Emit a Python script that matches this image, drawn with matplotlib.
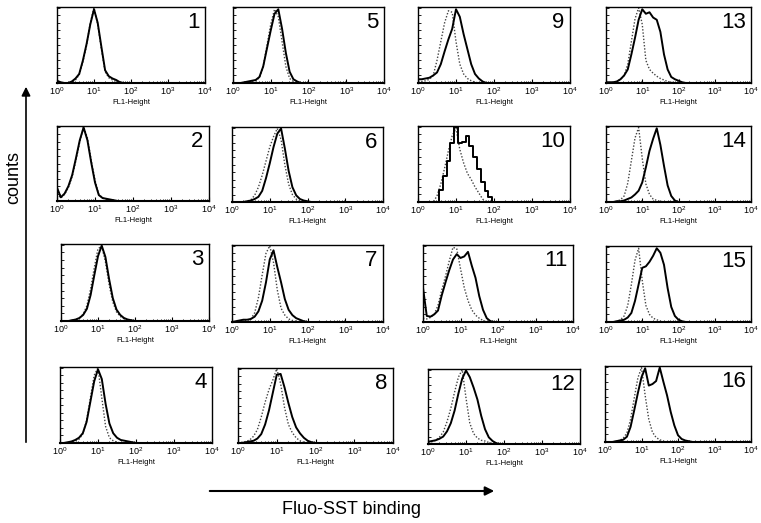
import matplotlib
matplotlib.use("Agg")
import matplotlib.pyplot as plt
from matplotlib.patches import FancyArrowPatch
from matplotlib.ticker import LogLocator, NullFormatter, MultipleLocator

plt.rcParams['font.family'] = ['Liberation Sans', 'DejaVu Sans']
plt.rcParams['mathtext.fontset'] = 'custom'
plt.rcParams['mathtext.rm'] = 'Liberation Sans'

# ---------------- data ----------------
# log10(FL1-Height) grid shared by all histograms
log_fl1 = [0.0, 0.1, 0.2, 0.3, 0.4, 0.5, 0.6, 0.7, 0.8, 0.9, 1.0, 1.1, 1.2,
           1.3, 1.4, 1.5, 1.6, 1.7, 1.8, 1.9, 2.0, 2.1, 2.2, 2.3, 2.4, 2.5]

panel_ids = ['1', '2', '3', '4', '5', '6', '7', '8',
             '9', '10', '11', '12', '13', '14', '15', '16']

# sample (solid) histograms, relative counts
solid_1 = [3, 1, 0, 0, 2, 6, 12, 30, 52, 78, 98, 80, 48, 17, 9, 6, 4, 1, 0]
solid_2 = [18, 5, 10, 20, 35, 58, 82, 99, 82, 52, 25, 8, 4, 3, 2, 1, 0]
solid_3 = [0, 0, 0, 1, 2, 4, 8, 16, 34, 60, 85, 99, 84, 55, 30, 15, 8, 4, 2, 1, 0]
solid_4 = [0, 0, 1, 2, 4, 7, 13, 28, 55, 82, 98, 85, 52, 26, 13, 7, 4, 3, 2, 1, 0]
solid_5 = [0, 0, 0, 1, 2, 3, 4, 8, 22, 46, 70, 92, 98, 72, 40, 15, 5, 2, 0]
solid_6 = [0, 0, 0, 0, 1, 2, 4, 7, 15, 32, 52, 74, 92, 99, 72, 42, 20, 9, 4, 2, 1, 0]
solid_7 = [0, 1, 2, 3, 3, 4, 7, 14, 28, 52, 82, 94, 72, 52, 30, 16, 9, 5, 3, 1, 0]
solid_8 = [0, 0, 1, 2, 3, 6, 12, 25, 44, 68, 92, 93, 75, 54, 35, 21, 13, 7, 3, 1, 0]
solid_9 = [5, 5, 6, 7, 10, 14, 25, 42, 58, 72, 98, 88, 65, 45, 25, 12, 6, 2, 0]
solid_10 = [0, 0, 0, 0, 0, 0, 16, 34, 55, 78, 100, 78, 80, 88, 74, 60, 44, 27, 14, 6, 0]
solid_11 = [45, 8, 7, 10, 15, 35, 52, 68, 82, 89, 84, 86, 92, 74, 58, 34, 16, 5, 1, 0]
solid_12 = [3, 4, 5, 7, 10, 17, 28, 45, 68, 88, 99, 90, 76, 60, 38, 20, 9, 4, 1, 0]
solid_13 = [1, 1, 1, 2, 5, 10, 18, 38, 60, 84, 98, 92, 94, 87, 84, 68, 38, 18, 8, 5, 3, 1, 0]
solid_14 = [0, 0, 0, 1, 1, 2, 4, 6, 10, 15, 26, 46, 68, 84, 98, 76, 48, 22, 8, 2, 0]
solid_15 = [0, 0, 0, 1, 2, 3, 6, 12, 28, 50, 72, 74, 80, 88, 98, 92, 76, 45, 20, 8, 3, 1, 0]
solid_16 = [0, 0, 0, 1, 2, 3, 7, 20, 42, 65, 86, 98, 75, 77, 81, 99, 80, 62, 40, 22, 9, 4, 2, 1, 0]

# control (dotted) histograms, relative counts
dotted_1 = [0, 0, 0, 0, 1, 4, 11, 28, 50, 80, 100, 78, 45, 15, 7, 4, 2, 1, 0]
dotted_2 = [10, 4, 9, 18, 33, 55, 80, 100, 85, 55, 28, 9, 4, 2, 1, 0]
dotted_3 = [0, 0, 0, 1, 2, 4, 9, 20, 42, 70, 95, 98, 78, 48, 25, 12, 6, 3, 1, 0]
dotted_4 = [0, 0, 0, 1, 2, 5, 12, 30, 60, 90, 100, 60, 22, 7, 3, 1, 0]
dotted_5 = [0, 0, 0, 0, 1, 2, 3, 7, 22, 50, 78, 98, 88, 55, 22, 6, 2, 0]
dotted_6 = [0, 0, 0, 0, 1, 3, 9, 20, 36, 55, 74, 88, 99, 84, 50, 24, 10, 4, 1, 0]
dotted_7 = [0, 0, 1, 1, 2, 4, 12, 32, 62, 90, 100, 78, 42, 18, 9, 4, 2, 1, 0]
dotted_8 = [0, 1, 2, 4, 9, 18, 35, 55, 72, 85, 100, 80, 48, 25, 14, 7, 3, 1, 0]
dotted_9 = [2, 2, 3, 5, 10, 30, 55, 80, 96, 94, 55, 25, 12, 6, 3, 1, 0]
dotted_10 = [0, 0, 0, 0, 0, 8, 24, 45, 68, 88, 98, 70, 52, 38, 30, 20, 12, 4, 0]
dotted_11 = [5, 4, 6, 10, 22, 42, 60, 80, 98, 96, 70, 45, 28, 16, 9, 5, 2, 0]
dotted_12 = [2, 3, 5, 9, 16, 30, 48, 70, 90, 100, 62, 28, 14, 8, 5, 4, 2, 1, 0]
dotted_13 = [0, 0, 1, 2, 5, 10, 25, 55, 85, 100, 78, 30, 18, 13, 9, 6, 4, 2, 1, 0]
dotted_14 = [0, 0, 0, 1, 3, 8, 25, 55, 85, 99, 58, 24, 10, 4, 2, 1, 0]
dotted_15 = [0, 0, 0, 1, 3, 8, 22, 50, 82, 98, 55, 22, 10, 5, 3, 1, 0]
dotted_16 = [0, 0, 0, 1, 2, 5, 12, 30, 58, 85, 99, 62, 30, 13, 6, 3, 1, 0]

solid = [solid_1, solid_2, solid_3, solid_4, solid_5, solid_6, solid_7, solid_8,
         solid_9, solid_10, solid_11, solid_12, solid_13, solid_14, solid_15, solid_16]
dotted = [dotted_1, dotted_2, dotted_3, dotted_4, dotted_5, dotted_6, dotted_7, dotted_8,
          dotted_9, dotted_10, dotted_11, dotted_12, dotted_13, dotted_14, dotted_15, dotted_16]
step_panels = ['10']

# ---------------- layout (pixels: left, top, right, bottom) ----------------
W, H = 761, 523
boxes = [
    (57, 7, 205, 83), (57, 126, 209, 201), (61, 244, 209, 321), (60, 367, 212, 443),
    (233, 7, 384, 83), (232, 127, 383, 202), (232, 245, 383, 322), (238, 368, 393, 443),
    (418, 7, 570, 83), (418, 126, 570, 202), (423, 245, 573, 322), (428, 369, 580, 444),
    (606, 7, 751, 83), (606, 126, 751, 202), (606, 246, 751, 322), (605, 366, 751, 442),
]

fig = plt.figure(figsize=(W / 100, H / 100), dpi=100)

for pid, box, ys, yd in zip(panel_ids, boxes, solid, dotted):
    l, t, r, b = box
    ax = fig.add_axes([l / W, 1 - b / H, (r - l) / W, (b - t) / H])
    xs = [10 ** v for v in log_fl1[:len(ys)]]
    xd = [10 ** v for v in log_fl1[:len(yd)]]
    ax.plot(xd, yd, color='#444444', lw=1.0, linestyle=(0, (1, 1.3)))
    if pid in step_panels:
        ax.plot(xs, ys, color='black', lw=1.4, drawstyle='steps-mid')
    else:
        ax.plot(xs, ys, color='black', lw=1.4)
    ax.set_xscale('log')
    ax.set_xlim(1, 1e4)
    ax.set_ylim(0, 101)
    ax.xaxis.set_major_locator(LogLocator(base=10, numticks=10))
    ax.xaxis.set_minor_locator(LogLocator(base=10, subs=range(2, 10), numticks=50))
    ax.xaxis.set_minor_formatter(NullFormatter())
    ax.yaxis.set_major_locator(MultipleLocator(10))
    ax.set_yticklabels([])
    ax.tick_params(axis='x', which='major', direction='in', length=3, width=0.8,
                   labelsize=6.5, pad=2)
    ax.tick_params(axis='x', which='minor', direction='in', length=1.8, width=0.6)
    ax.tick_params(axis='y', which='major', direction='in', length=2, width=0.6)
    for s in ax.spines.values():
        s.set_linewidth(1.0)
    ax.spines['bottom'].set_linewidth(1.5)
    ax.set_xlabel('FL1-Height', fontsize=5.5, labelpad=1)
    ax.text(0.965, 0.93, pid, transform=ax.transAxes, ha='right', va='top',
            fontsize=16)

# axis arrows and titles
fig.add_artist(FancyArrowPatch((26 / W, 1 - 445 / H), (26 / W, 1 - 84 / H),
                               transform=fig.transFigure, arrowstyle='-|>',
                               mutation_scale=13, lw=1.2, color='black'))
fig.add_artist(FancyArrowPatch((207 / W, 1 - 491 / H), (497 / W, 1 - 491 / H),
                               transform=fig.transFigure, arrowstyle='-|>',
                               mutation_scale=13, lw=1.5, color='black'))
fig.text(14 / W, 1 - 178 / H, 'counts', rotation=90, ha='center', va='center',
         fontsize=13)
fig.text(352 / W, 1 - 510 / H, 'Fluo-SST binding', ha='center', va='center',
         fontsize=13)

fig.savefig('out.png', dpi=100)
